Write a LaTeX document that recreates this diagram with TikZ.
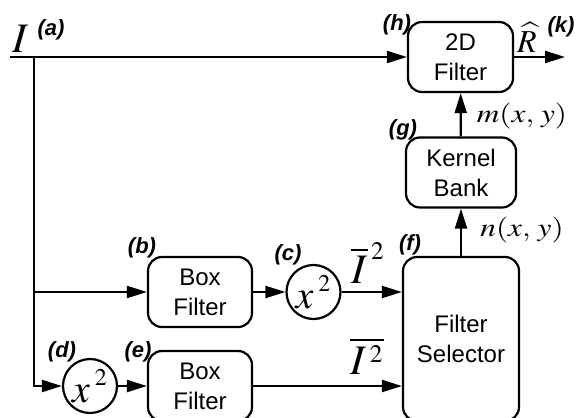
\documentclass[tikz,border=0pt]{standalone}
\usepackage{mathptmx}
\usepackage[no-math]{fontspec}
\setmainfont{Liberation Sans}
\usetikzlibrary{positioning,arrows.meta}
\tikzset{
  blk/.style={draw, line width=1.1pt, rounded corners=7pt, align=center,
              inner sep=0pt, font=\fontsize{12}{15}\selectfont},
  sqr/.style={draw, circle, line width=1.1pt, minimum size=27pt, inner sep=0pt,
              font=\fontsize{20}{22}\selectfont},
  tag/.style={font=\fontsize{11}{12}\selectfont\bfseries\itshape, inner sep=0pt},
  sig/.style={inner sep=0pt},
  wire/.style={line width=1.1pt},
  arr/.style={wire, -{Triangle[length=10pt,width=6pt]}},
}
\newcommand{\sq}{^{\,\scriptscriptstyle 2}}
\newcommand{\xsq}{x^{\mkern3mu\raisebox{1.5pt}{$\scriptscriptstyle 2$}}}
\newcommand{\wide}[1]{\scalebox{1.2}[1]{#1}}

\begin{document}
\begin{tikzpicture}[x=0.5pt, y=-0.5pt]
  \useasboundingbox (0,0) rectangle (576,417);
  \clip (0,0) rectangle (576,417);
  % blocks
  \node[blk, minimum width=52.5pt, minimum height=35pt] (hf) at (460.5,57) {2D\\Filter};
  \node[blk, minimum width=55pt, minimum height=35pt] (kb) at (461,172.5) {Kernel\\Bank};
  \node[blk, minimum width=58pt, minimum height=82pt] (fs) at (461,339) {Filter\\Selector};
  \node[blk, minimum width=52pt, minimum height=35pt] (bf1) at (200,292) {Box\\Filter};
  \node[blk, minimum width=52pt, minimum height=35pt] (bf2) at (200,386) {Box\\Filter};
  \node[sqr] (sq1) at (313.5,292) {$\xsq$};
  \node[sqr] (sq2) at (90,386) {$\xsq$};
  \coordinate (in) at (10,57);
  \coordinate (jt) at (34,57);
  \coordinate (jb) at (34,292);
  \coordinate (out) at (565,57);
  % wires
  \draw[arr] (in) -- (hf.west);
  \draw[arr] (jt) |- (sq2.west);
  \draw[arr] (jb) -- (bf1.west);
  \draw[arr] (bf1) -- (sq1);
  \draw[arr] (sq1) -- (sq1 -| fs.west);
  \draw[arr] (sq2) -- (bf2);
  \draw[arr] (bf2) -- (bf2 -| fs.west);
  \draw[arr] (fs.north) -- (kb.south);
  \draw[arr] (kb) -- (hf);
  \draw[arr] (hf) -- (out);
  % signals
  \node[sig, font=\fontsize{21}{22}\selectfont] (lI) at (21,39) {$I$};
  \node[sig, font=\fontsize{16}{18}\selectfont] (lR) at (527,37) {$\widehat{R}$};
  \node[sig, font=\fontsize{13}{15}\selectfont] (lm) at (522,116) {\wide{$m(x,\,y)$}};
  \node[sig, font=\fontsize{13}{15}\selectfont] (ln) at (522,230) {\wide{$n(x,\,y)$}};
  \node[sig, font=\fontsize{21}{22}\selectfont] (lb1) at (368,263) {$\overline{I}^{\,\scriptscriptstyle 2}$};
  \node[sig, font=\fontsize{21}{22}\selectfont] (lb2) at (367,356) {$\overline{I\sq}$};
  % tags
  \foreach \t/\x/\y in {a/51/30, h/397/25, k/561/27, g/403/130, b/142/248,
                        c/288/255, f/410/245, d/62/352, e/138/352}
    \node[tag] (t\t) at (\x,\y) {(\t)};
\end{tikzpicture}
\end{document}
